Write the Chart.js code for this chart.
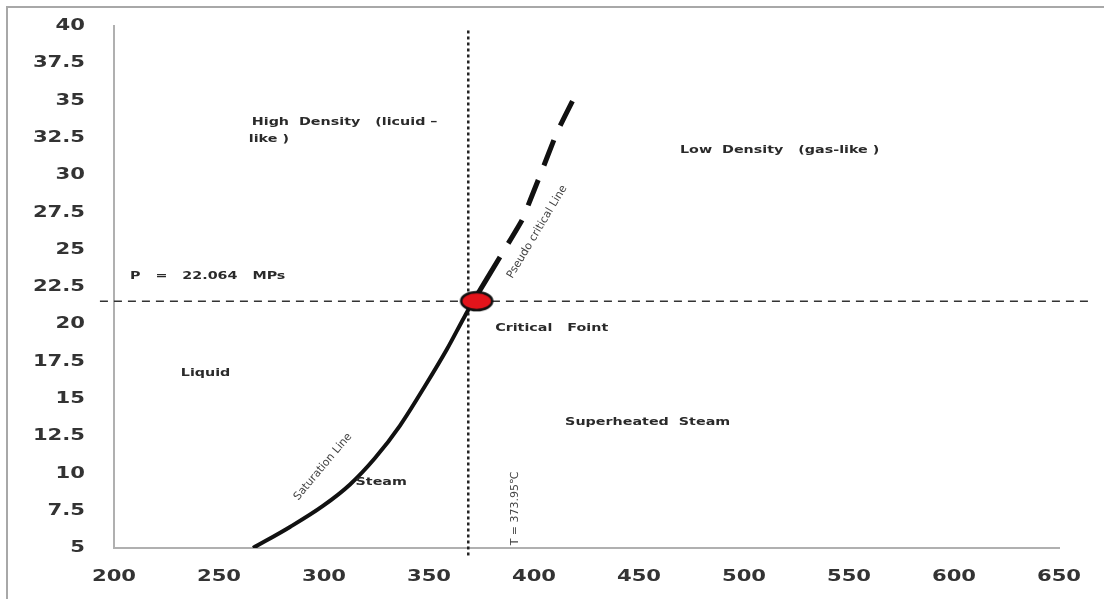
<!DOCTYPE html>
<html>
<head>
<meta charset="utf-8">
<script src="https://cdn.jsdelivr.net/npm/chart.js@4.4.0/dist/chart.umd.min.js"></script>
<style>
    html, body { margin: 0; padding: 0; background: #fff; }
    .wrap { position: relative; width: 1104px; height: 599px; overflow: hidden; }
    .frame {
        position: absolute; left: 6px; top: 6px; right: -4px; bottom: -4px;
        border-top: 2px solid #a8a8a8; border-left: 2px solid #a8a8a8;
        pointer-events: none;
    }
</style>
</head>
<body>
<div class="wrap">
    <canvas id="phaseChart" width="1104" height="599"></canvas>
    <div class="frame"></div>
</div>
<script>
        // axis ticks
        const xTicks = [200, 250, 300, 350, 400, 450, 500, 550, 600, 650];
        const yTicks = [5, 7.5, 10, 12.5, 15, 17.5, 20, 22.5, 25, 27.5, 30, 32.5, 35, 37.5, 40];

        // saturation line (temperature C, pressure MPa)
        const saturationT = [266.2, 283.8, 299.5, 312.4, 324.3, 336.2, 348.1, 358.6, 367.1, 371.1];
        const saturationP = [5.0, 6.41, 7.82, 9.26, 11.03, 13.21, 15.86, 18.34, 20.56, 21.55];

        // pseudo critical line
        const pseudoT = [371.1, 383.8, 394.3, 402.4, 411.0, 418.6];
        const pseudoP = [21.55, 24.51, 26.99, 29.81, 32.89, 35.04];

        // critical point and the two reference lines through it
        const criticalT = [372.7];
        const criticalP = [21.55];
        const isobarT = [193.3, 663.8];
        const isobarP = [21.55, 21.55];
        const isothermT = [368.7, 368.7];
        const isothermP = [39.7, 4.33];

        const notes = [
            { text: 'High  Density   (licuid –', x: 265.6, y: 33.58 },
            { text: 'like )', x: 264.2, y: 32.42 },
            { text: 'Low  Density   (gas-like )', x: 469.5, y: 31.69 },
            { text: 'P   =   22.064   MPs', x: 207.6, y: 23.24 },
            { text: 'Critical   Foint', x: 381.5, y: 19.75 },
            { text: 'Liquid', x: 231.8, y: 16.73 },
            { text: 'Superheated  Steam', x: 414.8, y: 13.45 },
            { text: 'Steam', x: 315.0, y: 9.42 }
        ];
        const slanted = [
            { text: 'Saturation Line', x: 299.5, y: 10.45, angle: -50 },
            { text: 'Pseudo critical Line', x: 401.5, y: 26.2, angle: -59 },
            { text: 'T = 373.95℃', x: 391.2, y: 7.65, angle: -90 }
        ];

        const toPoints = (xs, ys) => xs.map((x, i) => ({ x: x, y: ys[i] }));

        // red elliptical marker for the critical point
        const dot = document.createElement('canvas');
        dot.width = 36;
        dot.height = 22;
        const dctx = dot.getContext('2d');
        dctx.beginPath();
        dctx.ellipse(18, 11, 15.5, 9, 0, 0, Math.PI * 2);
        dctx.fillStyle = '#e3141b';
        dctx.fill();
        dctx.lineWidth = 2.5;
        dctx.strokeStyle = '#111';
        dctx.stroke();

        function drawText(ctx, text, px, py, font, color, align, stretch, angle) {
            ctx.save();
            ctx.translate(px, py);
            if (angle) ctx.rotate(angle * Math.PI / 180);
            ctx.scale(stretch, 1);
            ctx.font = font;
            ctx.fillStyle = color;
            ctx.textAlign = align;
            ctx.textBaseline = 'middle';
            ctx.fillText(text, 0, 0);
            ctx.restore();
        }

        const textPlugin = {
            id: 'phaseText',
            afterDraw(chart) {
                const ctx = chart.ctx;
                const xs = chart.scales.x;
                const ys = chart.scales.y;
                const tickFont = 'bold 16px "DejaVu Sans"';
                xTicks.forEach(v => {
                    drawText(ctx, String(v), xs.getPixelForValue(v), chart.chartArea.bottom + 29, tickFont, '#333', 'center', 1.32, 0);
                });
                yTicks.forEach(v => {
                    drawText(ctx, String(v), chart.chartArea.left - 29, ys.getPixelForValue(v), tickFont, '#333', 'right', 1.32, 0);
                });
                notes.forEach(n => {
                    drawText(ctx, n.text, xs.getPixelForValue(n.x), ys.getPixelForValue(n.y), 'bold 11px "DejaVu Sans"', '#2a2a2a', 'left', 1.3, 0);
                });
                slanted.forEach(n => {
                    drawText(ctx, n.text, xs.getPixelForValue(n.x), ys.getPixelForValue(n.y), '11px "DejaVu Sans"', '#444', 'center', 1, n.angle);
                });
            }
        };

        const phaseChart = new Chart(document.getElementById('phaseChart'), {
            type: 'scatter',
            data: {
                datasets: [
                    {
                        label: 'Critical Point',
                        data: toPoints(criticalT, criticalP),
                        pointStyle: dot,
                        pointRadius: 10,
                        order: 0
                    },
                    {
                        label: 'Saturation Line',
                        data: toPoints(saturationT, saturationP),
                        showLine: true,
                        borderColor: '#111',
                        borderWidth: 4,
                        pointRadius: 0,
                        cubicInterpolationMode: 'monotone',
                        order: 1
                    },
                    {
                        label: 'Pseudo critical Line',
                        data: toPoints(pseudoT, pseudoP),
                        showLine: true,
                        borderColor: '#111',
                        borderWidth: 5,
                        borderDash: [27, 16],
                        borderDashOffset: 27,
                        pointRadius: 0,
                        tension: 0.1,
                        segment: {
                            borderDash: ctx => ctx.p0DataIndex === 0 ? [] : undefined
                        },
                        order: 1
                    },
                    {
                        label: 'P = 22.064 MPa',
                        data: toPoints(isobarT, isobarP),
                        showLine: true,
                        borderColor: '#333',
                        borderWidth: 1.5,
                        borderDash: [8, 6],
                        pointRadius: 0,
                        clip: false,
                        order: 2
                    },
                    {
                        label: 'T = 373.95',
                        data: toPoints(isothermT, isothermP),
                        showLine: true,
                        borderColor: '#222',
                        borderWidth: 2.5,
                        borderDash: [3, 3],
                        pointRadius: 0,
                        clip: false,
                        order: 2
                    }
                ]
            },
            options: {
                responsive: false,
                devicePixelRatio: 1,
                animation: false,
                layout: {
                    padding: { left: 0, right: 45, top: 26, bottom: 0 }
                },
                plugins: {
                    legend: { display: false },
                    tooltip: { enabled: false }
                },
                scales: {
                    x: {
                        type: 'linear',
                        min: 200,
                        max: 650,
                        grid: { display: false },
                        border: { display: true, color: '#b0b0b0', width: 2 },
                        ticks: { display: false, stepSize: 50 },
                        afterFit: s => { s.height = 51; }
                    },
                    y: {
                        type: 'linear',
                        min: 5,
                        max: 40,
                        grid: { display: false },
                        border: { display: true, color: '#b0b0b0', width: 2 },
                        ticks: { display: false, stepSize: 2.5 },
                        afterFit: s => { s.width = 114; }
                    }
                }
            },
            plugins: [textPlugin]
        });
</script>
</body>
</html>
